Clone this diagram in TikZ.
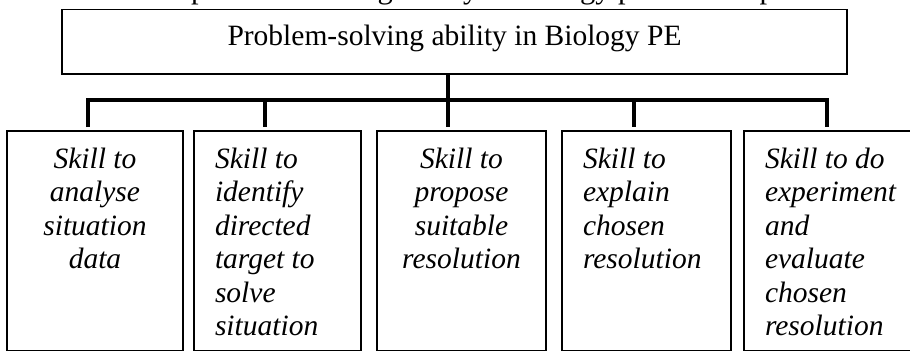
\documentclass[tikz,border=0pt]{standalone}
\usepackage{fontspec}
\setmainfont{Liberation Serif}
\usetikzlibrary{calc}
\begin{document}
\begin{tikzpicture}[x=1pt,y=-1pt,
  frame/.style={draw=black, line width=1.3pt, inner sep=0pt, outer sep=0pt, anchor=north west},
  skill/.style={inner sep=0pt, outer sep=0pt, align=left, font=\fontsize{29.5}{33.5}\selectfont\itshape},
  skillc/.style={skill, align=center},
  link/.style={line width=3.6pt, draw=black},
]
\useasboundingbox (0,0) rectangle (910,351);

% caption line running above the chart (only its descenders fall inside)
\node[anchor=base west, inner sep=0pt, font=\fontsize{30.5}{34}\selectfont] (cap) at (191,-1.5)
  {problem-solving ability in biology practical experiment};

% root box
\node[frame, minimum width=785pt, minimum height=64.5pt] (top) at (62,9.5) {};
\node[anchor=base, inner sep=0pt, font=\fontsize{29.5}{33.5}\selectfont] (toptext) at (454.5,45)
  {Problem-solving ability in Biology PE};

% skill boxes
\node[frame, minimum width=176pt, minimum height=219.5pt] (b1) at (7,131) {};
\node[frame, minimum width=167pt, minimum height=219.5pt] (b2) at (194,131) {};
\node[frame, minimum width=169pt, minimum height=219.5pt] (b3) at (377,131) {};
\node[frame, minimum width=169pt, minimum height=219.5pt] (b4) at (562,131) {};
\node[frame, minimum width=180pt, minimum height=219.5pt] (b5) at (744,131) {};

% labels, hung from the top of the first line
\node[skillc, anchor=north] (t1) at (95,148) {Skill to\\analyse\\situation\\data};
\node[skill, anchor=north west] (t2) at (215,148) {Skill to\\identify\\directed\\target to\\solve\\situation};
\node[skillc, anchor=north] (t3) at (461.5,148) {Skill to\\propose\\suitable\\resolution};
\node[skill, anchor=north west] (t4) at (583,148) {Skill to\\explain\\chosen\\resolution};
\node[skill, anchor=north west] (t5) at (765,148) {Skill to do\\experiment\\and\\evaluate\\chosen\\resolution};

% connector ends just above each box
\coordinate (j1) at ($(b1.north west)+(81,-4)$);
\coordinate (j2) at ($(b2.north west)+(71,-4)$);
\coordinate (j3) at ($(b3.north west)+(71,-4)$);
\coordinate (j4) at ($(b4.north west)+(72,-4)$);
\coordinate (j5) at ($(b5.north west)+(83,-4)$);
\coordinate (k1) at ($(j1)+(0,-27)$);

% tree connectors
\draw[link] (j1) -- (k1) -- (k1 -| j5) -- (j5);
\draw[link] (top.south -| j3) -- (j3);
\draw[link] (k1 -| j2) -- (j2);
\draw[link] (k1 -| j4) -- (j4);
\end{tikzpicture}
\end{document}
